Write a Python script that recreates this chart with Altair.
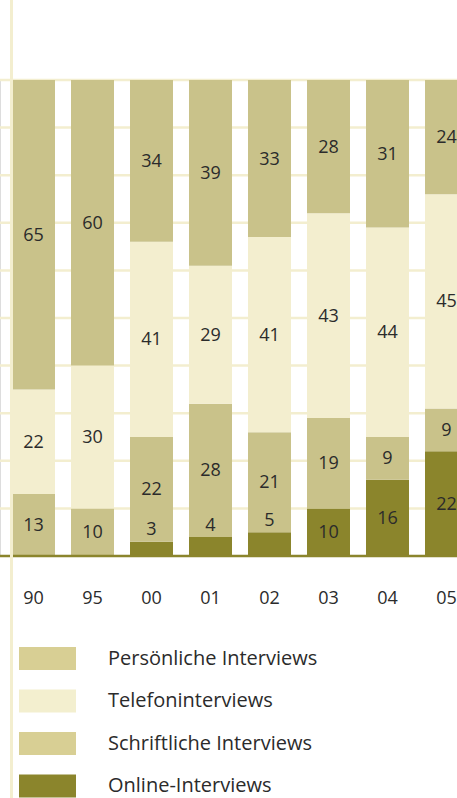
import altair as alt
import pandas as pd

years = ["90", "95", "00", "01", "02", "03", "04", "05"]
online = [0, 0, 3, 4, 5, 10, 16, 22]
schriftlich = [13, 10, 22, 28, 21, 19, 9, 9]
telefon = [22, 30, 41, 29, 41, 43, 44, 45]
persoenlich = [65, 60, 34, 39, 33, 28, 31, 24]

series = ["Persönliche Interviews", "Telefoninterviews", "Schriftliche Interviews", "Online-Interviews"]
bar_colors = ["#c9c28a", "#f3eecf", "#c9c28a", "#8b852c"]
legend_colors = ["#d8cf94", "#f3efcf", "#d8cf94", "#8b852c"]
gridvals = [10, 20, 30, 40, 50, 60, 70, 80, 90, 100]
baseval = [0]

FONT = "Open Sans"
TXT = "#2b2b2b"
CREAM = "#f3eecf"

# stacked table (bottom -> top: online, schriftlich, telefon, persönlich)
rows = []
stack_order = [("Online-Interviews", online), ("Schriftliche Interviews", schriftlich),
               ("Telefoninterviews", telefon), ("Persönliche Interviews", persoenlich)]
for i, yr in enumerate(years):
    base = 0
    for name, vals in stack_order:
        v = vals[i]
        top = base + v
        if v > 0:
            lab = (base + top) / 2 if v >= 6 else top + 2.6
            rows.append({"year": yr, "series": name, "y0": base, "y1": top,
                         "value": v, "labpos": lab})
        base = top
df = pd.DataFrame(rows)

grid_df = pd.DataFrame({"g": gridvals})
base_df = pd.DataFrame({"g": baseval})
leg_df = pd.DataFrame({"series": series, "idx": list(range(len(series))),
                       "col": legend_colors})

xscale = alt.Scale(domain=years, range=[12, 468], paddingInner=16 / 59, paddingOuter=0)
yscale = alt.Scale(domain=[0, 100])

grid = alt.Chart(grid_df).mark_rule(color=CREAM, strokeWidth=2.5).encode(
    y=alt.Y("g:Q", scale=yscale, axis=None),
    x=alt.value(0), x2=alt.value(457),
)

vline = alt.Chart(base_df).mark_rule(color=CREAM, strokeWidth=3).encode(
    x=alt.value(11.5), y=alt.value(-80), y2=alt.value(718),
)

bars = alt.Chart(df).mark_bar().encode(
    x=alt.X("year:N", sort=years, scale=xscale,
            axis=alt.Axis(title=None, domain=False, ticks=False, labelAngle=0,
                          labelFont=FONT, labelFontSize=18, labelColor=TXT,
                          labelPadding=42, labelBaseline="middle", grid=False)),
    y=alt.Y("y0:Q", scale=yscale, axis=None),
    y2="y1:Q",
    color=alt.Color("series:N", scale=alt.Scale(domain=series, range=bar_colors), legend=None),
)

labels = alt.Chart(df).mark_text(font=FONT, fontSize=18, color=TXT, baseline="middle", dy=1).encode(
    x=alt.X("year:N", sort=years, scale=xscale),
    y=alt.Y("labpos:Q", scale=yscale),
    text="value:Q",
)

baseline = alt.Chart(base_df).mark_rule(color="#8b852c", strokeWidth=2.5).encode(
    y=alt.Y("g:Q", scale=yscale),
    x=alt.value(0), x2=alt.value(457),
)

legscale = alt.Scale(domain=[0, 3], range=[578.5, 706])
leg_sw = alt.Chart(leg_df).mark_point(
    shape="M-1,-0.4H1V0.4H-1Z", size=57 * 57, filled=True, opacity=1, strokeWidth=0
).encode(
    x=alt.value(47.5),
    y=alt.Y("idx:Q", scale=legscale, axis=None),
    color=alt.Color("col:N", scale=None),
)
leg_tx = alt.Chart(leg_df).mark_text(font=FONT, fontSize=20, color=TXT, align="left",
                                     baseline="middle").encode(
    x=alt.value(108),
    y=alt.Y("idx:Q", scale=legscale, axis=None),
    text="series:N",
)

main = alt.layer(grid, bars, labels, baseline)
chart = alt.layer(main, vline, leg_sw, leg_tx).resolve_scale(y="independent").properties(
    width=457, height=476,
    autosize=alt.AutoSizeParams(type="none"),
    padding={"left": 0, "top": 80, "right": 0, "bottom": 242},
).configure_view(stroke=None).configure(background="white")

chart.save("out.html", embed_options={"renderer": "svg", "actions": False})
